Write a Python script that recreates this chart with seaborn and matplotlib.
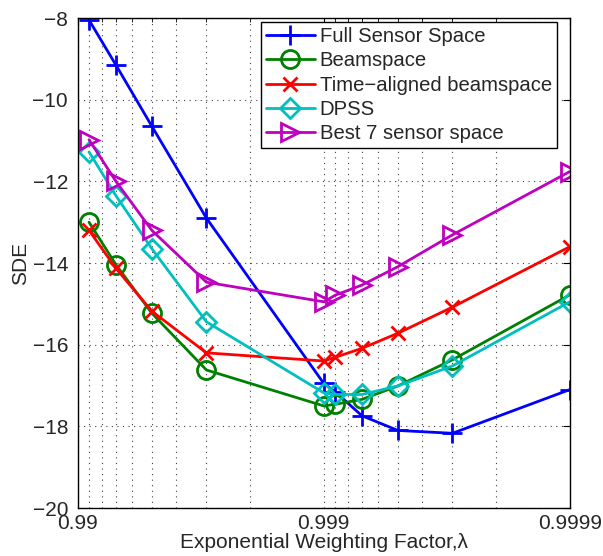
import numpy as np
import pandas as pd
import matplotlib
matplotlib.use("Agg")
import matplotlib.pyplot as plt
from matplotlib.ticker import LogLocator, NullFormatter
import seaborn as sns

# forgetting factor values (x) and SDE for each method
lam = [0.991, 0.993, 0.995, 0.997, 0.999, 0.9991, 0.9993, 0.9995, 0.9997, 0.9999]
full_sensor = [-8.05, -9.15, -10.65, -12.9, -16.95, -17.15, -17.74, -18.1, -18.17, -17.1]
beamspace = [-13.0, -14.04, -15.23, -16.62, -17.5, -17.46, -17.34, -17.01, -16.37, -14.78]
time_aligned = [-13.2, -14.13, -15.18, -16.2, -16.4, -16.31, -16.09, -15.72, -15.08, -13.6]
dpss = [-11.28, -12.35, -13.65, -15.44, -17.18, -17.22, -17.22, -17.01, -16.52, -14.95]
best7 = [-10.98, -12.0, -13.2, -14.47, -14.95, -14.79, -14.54, -14.09, -13.31, -11.76]

labels = ["Full Sensor Space", "Beamspace", "Time\u2212aligned beamspace", "DPSS", "Best 7 sensor space"]
series = [full_sensor, beamspace, time_aligned, dpss, best7]
colors = ["#0000ff", "#008000", "#ff0000", "#00bfbf", "#bf00bf"]
markers = ["+", "o", "x", "D", ">"]
msizes = [14, 13, 10, 10, 13]

sns.set_style("white")
plt.rcParams["font.family"] = ["Liberation Sans", "DejaVu Sans"]

fig = plt.figure(figsize=(6.03, 5.56), dpi=100)
ax = fig.add_axes([0.129, 0.0863, 0.816, 0.8813])

one_minus = [1 - v for v in lam]
for lab, vals, c, m, ms in zip(labels, series, colors, markers, msizes):
    df = pd.DataFrame({"x": one_minus, "y": vals})
    sns.lineplot(data=df, x="x", y="y", ax=ax, color=c, marker=m, markersize=ms,
                 markerfacecolor="none", markeredgecolor=c, markeredgewidth=2,
                 linewidth=2, label=lab)

ax.set_xscale("log")
ax.set_xlim(0.01, 0.0001)
ax.set_ylim(-20, -8)
ax.set_xticks([0.01, 0.001, 0.0001])
ax.set_xticklabels(["0.99", "0.999", "0.9999"])
ax.xaxis.set_minor_locator(LogLocator(base=10, subs=np.arange(2, 10)))
ax.xaxis.set_minor_formatter(NullFormatter())
ax.set_yticks(np.arange(-20, -7, 2))

grid_kw = dict(linestyle=(0, (1, 4)), color="0.25", linewidth=0.8)
ax.grid(True, which="major", **grid_kw)
ax.grid(True, which="minor", axis="x", **grid_kw)
ax.tick_params(which="both", direction="in", top=True, right=True, labelsize=15, length=5, color="black")
ax.tick_params(axis="y", pad=7)
ax.tick_params(axis="x", pad=4)
ax.tick_params(which="minor", length=3)
for s in ax.spines.values():
    s.set_color("black")
    s.set_linewidth(1)

ax.set_xlabel("Exponential Weighting Factor,\u03bb", fontsize=15, labelpad=0)
ax.set_ylabel("SDE", fontsize=15, labelpad=2)

leg = ax.legend(loc="upper right", bbox_to_anchor=(0.9237, 0.9604), bbox_transform=fig.transFigure,
                fontsize=14.6, frameon=True, fancybox=False,
                edgecolor="black", framealpha=1, borderpad=0.25, labelspacing=0.26,
                handlelength=2.4, handletextpad=0.25, borderaxespad=0)
leg.get_frame().set_linewidth(1)

fig.savefig("out.png", dpi=100)
